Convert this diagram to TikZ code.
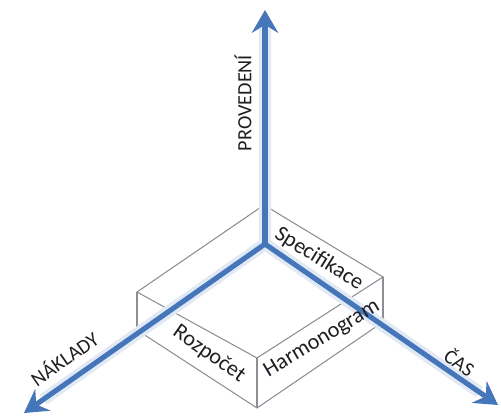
\documentclass[tikz,border=0pt]{standalone}
\usepackage{fontspec}
\setmainfont{Carlito}
\usetikzlibrary{arrows.meta}
\usetikzlibrary{calc}
\usepackage{xcolor}

\definecolor{axisblue}{RGB}{70,118,186}
\definecolor{boxgray}{RGB}{140,142,150}
\definecolor{txtgray}{RGB}{30,30,35}

\begin{document}
\begin{tikzpicture}[x=0.02cm,y=-0.02cm]
    \useasboundingbox (0,0) rectangle (501,418);
    \tikzset{axis/.style={draw=axisblue,line width=2.9pt,
                 -{Stealth[length=13pt,width=15pt,inset=4.5pt]}},
             glow/.style={draw=axisblue!16,line width=7pt},
             edge/.style={draw=boxgray,line width=0.6pt},
             lbl/.style={font=\fontsize{12.6}{15}\selectfont,text=txtgray,inner sep=0pt},
             axlbl/.style={font=\fontsize{11.5}{14}\selectfont,text=txtgray,inner sep=0pt}}
    % corners of the box
    \coordinate (T) at (264,205);
    \coordinate (R) at (383,277);
    \coordinate (F) at (257,358);
    \coordinate (L) at (137,292);
    \coordinate (Rb) at (383,322);
    \coordinate (Fb) at (257,408);
    \coordinate (Lb) at (137,330);
    \draw [edge] (T) -- (R) -- (F) -- (L) -- cycle;
    \foreach \c in {L,F,R}
        \draw [edge] (\c) -- (\c b);
    \draw [edge] (Lb) -- (Fb) -- (Rb);
    % axes
    \coordinate (O) at (265,244);
    \coordinate (up) at (265,10);
    \coordinate (left) at (24,413);
    \coordinate (right) at (498,405);
    \foreach \e in {up,left,right}
        \draw [glow] (O) -- ($(O)!0.92!(\e)$);
    \foreach \e in {up,left,right}
        \draw [axis] (O) -- (\e);
    % labels
    \node [lbl,rotate=-32] (spec) at (319,259) {Specifikace};
    \node [lbl,rotate=31] (harm) at (322,339) {Harmonogram};
    \node [lbl,rotate=-35] (rozp) at (209,354) {Rozpočet};
    \node [axlbl,rotate=90] (prov) at (243,103) {PROVEDENÍ};
    \node [axlbl,rotate=35] (nakl) at (64,358) {NÁKLADY};
    \node [axlbl,rotate=-35] (cas) at (460,362) {ČAS};
\end{tikzpicture}
\end{document}
